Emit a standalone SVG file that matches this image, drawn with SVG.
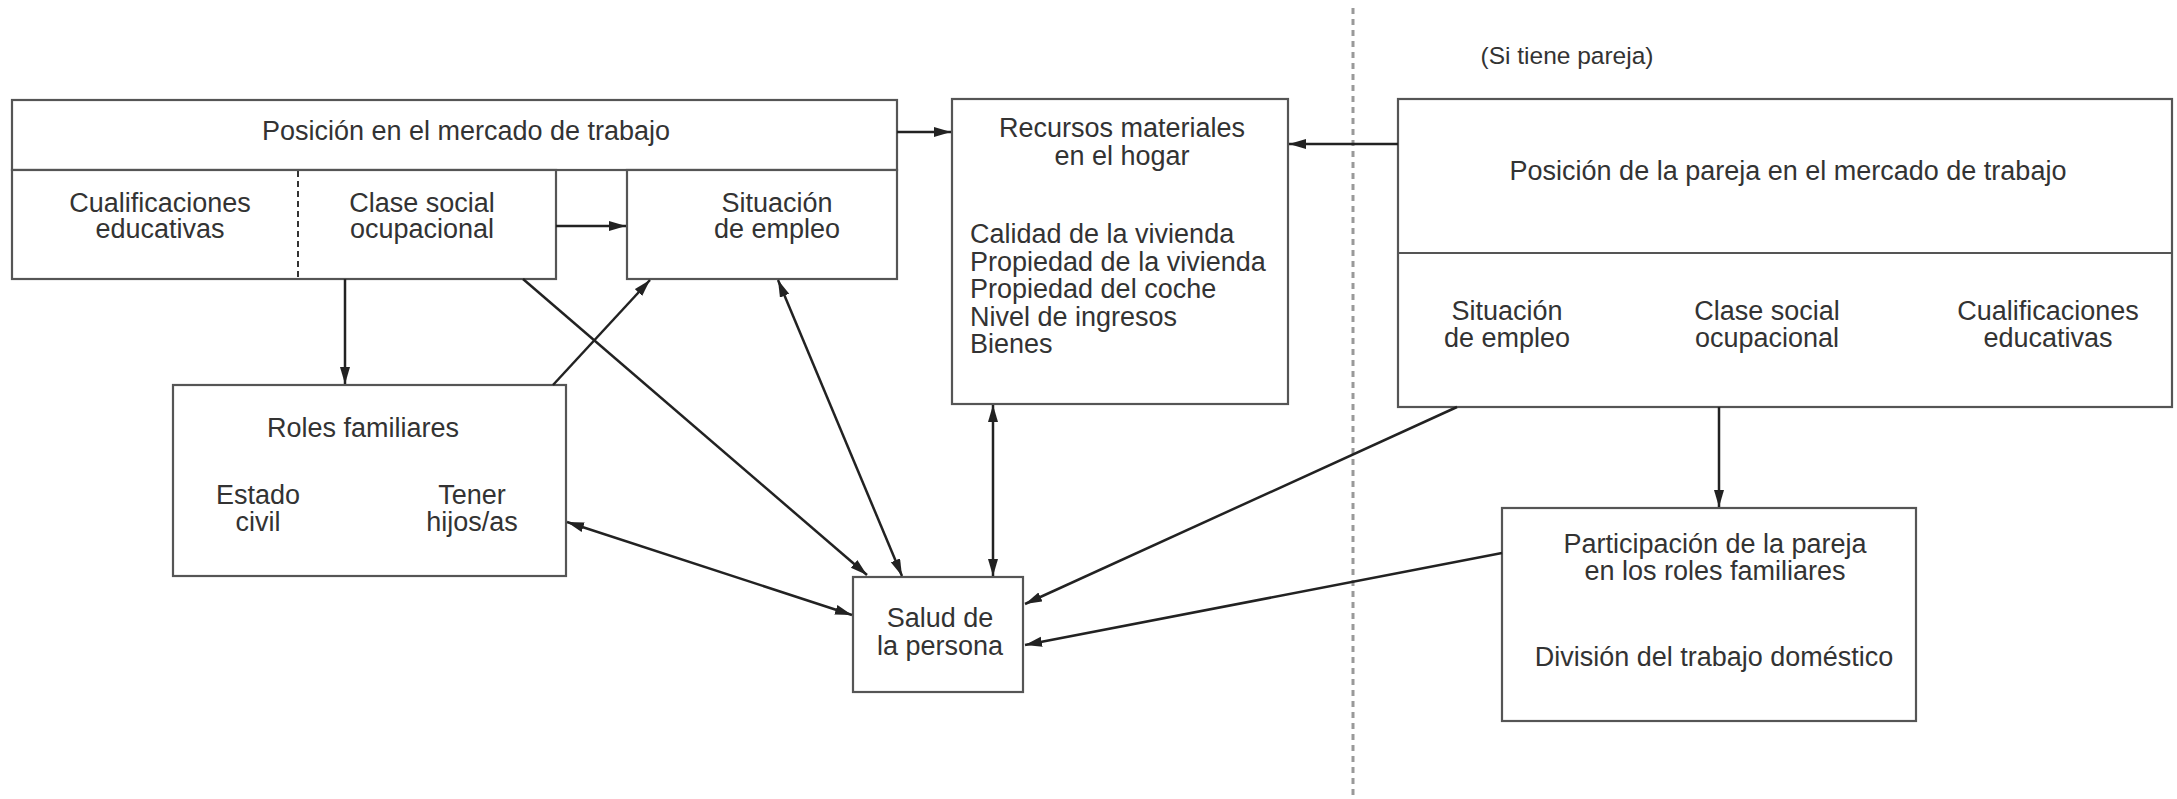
<svg xmlns="http://www.w3.org/2000/svg" width="2177" height="799" viewBox="0 0 2177 799">
<style>
.box{fill:#fff;stroke:#555;stroke-width:2.2}
.t{font-family:"Liberation Sans",Arial,sans-serif;font-size:27px;fill:#333;text-anchor:middle}
.l{text-anchor:start}
.c{fill:none;stroke:#222;stroke-width:2.5}
.sep{stroke:#999;stroke-width:3;stroke-dasharray:6 5}
.inner{stroke:#333;stroke-width:2;stroke-dasharray:6 4}
</style>
<defs>
<marker id="a" markerUnits="userSpaceOnUse" markerWidth="18" markerHeight="12" refX="17" refY="5" orient="auto-start-reverse">
<path d="M0,0 L17,5 L0,10 z" fill="#222"/>
</marker>
</defs>
<rect width="2177" height="799" fill="#fff"/>
<line class="sep" x1="1353" y1="8" x2="1353" y2="799"/>
<text class="t" x="1567" y="64" style="font-size:24.5px">(Si tiene pareja)</text>

<g id="posicion-mercado">
<rect class="box" x="12" y="100" width="885" height="70"/>
<text class="t" x="466" y="140">Posición en el mercado de trabajo</text>
</g>
<g id="cualificaciones-clase">
<rect class="box" x="12" y="170" width="544" height="109"/>
<line class="inner" x1="298" y1="171" x2="298" y2="278"/>
<text class="t" x="160" y="212">Cualificaciones</text>
<text class="t" x="160" y="238">educativas</text>
<text class="t" x="422" y="212">Clase social</text>
<text class="t" x="422" y="238">ocupacional</text>
</g>
<g id="situacion-empleo">
<rect class="box" x="627" y="170" width="270" height="109"/>
<text class="t" x="777" y="212">Situación</text>
<text class="t" x="777" y="238">de empleo</text>
</g>
<g id="recursos">
<rect class="box" x="952" y="99" width="336" height="305"/>
<text class="t" x="1122" y="137">Recursos materiales</text>
<text class="t" x="1122" y="165">en el hogar</text>
<text class="t l" x="970" y="243">Calidad de la vivienda</text>
<text class="t l" x="970" y="271">Propiedad de la vivienda</text>
<text class="t l" x="970" y="298">Propiedad del coche</text>
<text class="t l" x="970" y="326">Nivel de ingresos</text>
<text class="t l" x="970" y="353">Bienes</text>
</g>
<g id="pareja">
<rect class="box" x="1398" y="99" width="774" height="308"/>
<line class="box" x1="1398" y1="253" x2="2172" y2="253"/>
<text class="t" x="1788" y="180">Posición de la pareja en el mercado de trabajo</text>
<text class="t" x="1507" y="320">Situación</text>
<text class="t" x="1507" y="347">de empleo</text>
<text class="t" x="1767" y="320">Clase social</text>
<text class="t" x="1767" y="347">ocupacional</text>
<text class="t" x="2048" y="320">Cualificaciones</text>
<text class="t" x="2048" y="347">educativas</text>
</g>
<g id="roles">
<rect class="box" x="173" y="385" width="393" height="191"/>
<text class="t" x="363" y="437">Roles familiares</text>
<text class="t" x="258" y="504">Estado</text>
<text class="t" x="258" y="531">civil</text>
<text class="t" x="472" y="504">Tener</text>
<text class="t" x="472" y="531">hijos/as</text>
</g>
<g id="salud">
<rect class="box" x="853" y="577" width="170" height="115"/>
<text class="t" x="940" y="627">Salud de</text>
<text class="t" x="940" y="655">la persona</text>
</g>
<g id="participacion">
<rect class="box" x="1502" y="508" width="414" height="213"/>
<text class="t" x="1715" y="553">Participación de la pareja</text>
<text class="t" x="1715" y="580">en los roles familiares</text>
<text class="t" x="1714" y="666">División del trabajo doméstico</text>
</g>

<g id="connectors">
<line class="c" x1="897" y1="132" x2="951" y2="132" marker-end="url(#a)"/>
<line class="c" x1="556" y1="226" x2="626" y2="226" marker-end="url(#a)"/>
<line class="c" x1="1398" y1="144" x2="1289" y2="144" marker-end="url(#a)"/>
<line class="c" x1="345" y1="279" x2="345" y2="384" marker-end="url(#a)"/>
<line class="c" x1="553" y1="385" x2="650" y2="280" marker-end="url(#a)"/>
<line class="c" x1="523" y1="279" x2="867" y2="575" marker-end="url(#a)"/>
<line class="c" x1="778" y1="280" x2="902" y2="576" marker-start="url(#a)" marker-end="url(#a)"/>
<line class="c" x1="993" y1="405" x2="993" y2="576" marker-start="url(#a)" marker-end="url(#a)"/>
<line class="c" x1="567" y1="522" x2="852" y2="615" marker-start="url(#a)" marker-end="url(#a)"/>
<line class="c" x1="1457" y1="407" x2="1025" y2="604" marker-end="url(#a)"/>
<line class="c" x1="1502" y1="553" x2="1025" y2="645" marker-end="url(#a)"/>
<line class="c" x1="1719" y1="407" x2="1719" y2="507" marker-end="url(#a)"/>
</g>
</svg>
